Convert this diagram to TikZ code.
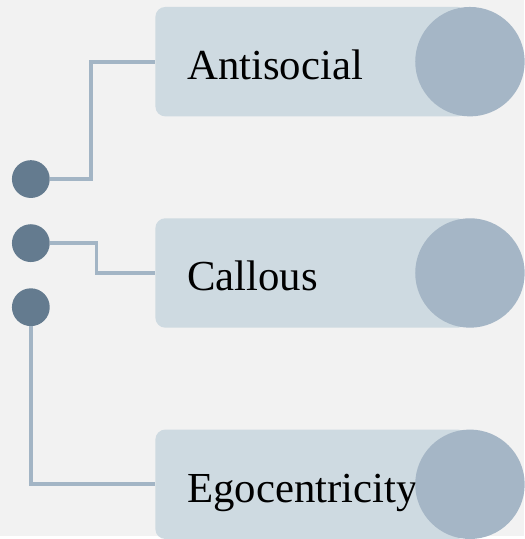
\documentclass[tikz,border=0pt]{standalone}
\usepackage{fontspec}
\setmainfont{Liberation Serif}
\usepackage{tikz}
\usetikzlibrary{positioning, calc, backgrounds}
\definecolor{paper}{HTML}{F2F2F2}
\definecolor{boxfill}{HTML}{CEDAE1}
\definecolor{cap}{HTML}{A5B6C6}
\definecolor{dotfill}{HTML}{647B8F}
\definecolor{wire}{HTML}{A3B5C5}

\begin{document}
\begin{tikzpicture}[
    x=1pt, y=1pt,
    node distance=102pt,
    item/.style={rectangle, rounded corners=10pt, fill=boxfill, draw=none,
                 minimum width=314pt, minimum height=110pt, inner xsep=32pt,
                 text width=250pt, align=left, text height=36pt, text depth=0pt,
                 font=\fontsize{43}{50}\selectfont, anchor=west},
    disc/.style={circle, fill=cap, draw=none, minimum size=110pt, inner sep=0pt},
    dot/.style={circle, fill=dotfill, draw=none, minimum size=38pt, inner sep=0pt},
    link/.style={draw=wire, line width=4pt}
]
% Background
\fill[paper] (0,0) rectangle (527,539);

% Nodes
\node[item] (B1) at (156,477) {Antisocial};
\node[item, below=of B1.south west, anchor=north west] (B2) {Callous};
\node[item, below=of B2.south west, anchor=north west] (B3) {Egocentricity};
\node[disc] (C1) at ([xshift=2pt]B1.east) {};
\node[disc] (C2) at ([xshift=2pt]B2.east) {};
\node[disc] (C3) at ([xshift=2pt]B3.east) {};

\node[dot] (D1) at (31,359) {};
\node[dot, below=26pt of D1] (D2) {};
\node[dot, below=26pt of D2] (D3) {};

% Connectors
\draw[link] (D1.east) -| ([xshift=-65pt]B1.west) -- (B1.west);
\draw[link] (D2.east) -| ([xshift=-59pt]B2.west) -- (B2.west);
\draw[link] (D3.south) |- (B3.west);
\end{tikzpicture}
\end{document}
